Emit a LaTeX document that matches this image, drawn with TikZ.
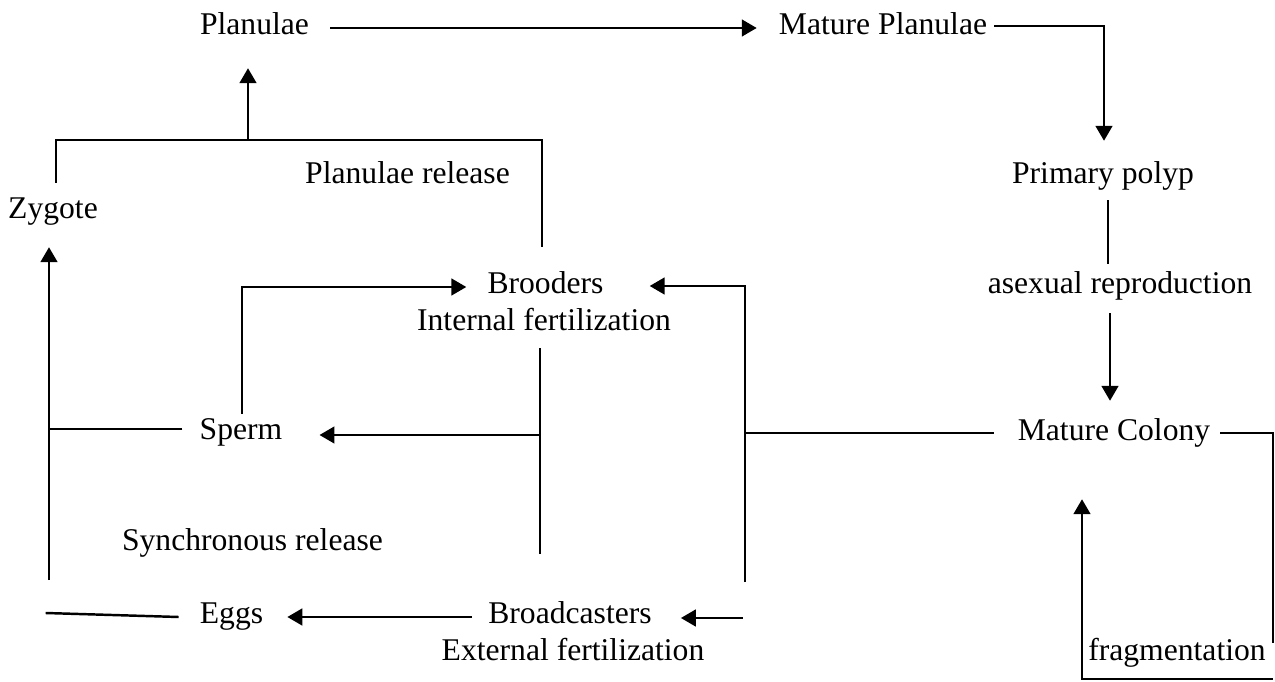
\documentclass[tikz,border=0pt]{standalone}
\usepackage{fontspec}
\setmainfont{Liberation Serif}
\usepackage{tikz}
\usetikzlibrary{arrows.meta, calc}

\begin{document}
\begin{tikzpicture}[x=0.02cm, y=-0.02cm,
    lbl/.style={inner sep=0pt, font=\fontsize{18}{21.6}\selectfont, text height=11.95pt, text depth=3.98pt},
    arr/.style={-{Triangle[length=8.5pt, width=9.5pt]}},
    line width=1.4pt]
    \useasboundingbox (0, 0) rectangle (1275, 682);

    % text
    \node[lbl] (planulae) at (254.5, 28) {Planulae};
    \node[lbl] (mplan) at (883, 28) {Mature Planulae};
    \node[lbl] (zygote) at (53, 211) {Zygote};
    \node[lbl] (prelease) at (407.5, 176) {Planulae release};
    \node[lbl] (polyp) at (1103, 176) {Primary polyp};
    \node[lbl] (brooders) at (545.5, 286) {Brooders};
    \node[lbl] (internal) at (544, 323) {Internal fertilization};
    \node[lbl] (asex) at (1120, 286) {asexual reproduction};
    \node[lbl] (sperm) at (241, 432) {Sperm};
    \node[lbl] (mcol) at (1114, 433) {Mature Colony};
    \node[lbl] (sync) at (252.5, 543) {Synchronous release};
    \node[lbl] (eggs) at (231.5, 616) {Eggs};
    \node[lbl] (broad) at (570, 616) {Broadcasters};
    \node[lbl] (external) at (573, 653) {External fertilization};
    \node[lbl] (frag) at (1177, 653) {fragmentation};

    \coordinate (merge) at (248, 141);
    \coordinate (splitup) at (745, 286);
    \coordinate (splitlow) at (745, 582);
    \coordinate (zleft) at (49, 580);
    \coordinate (fragr) at (1273, 643);
    \coordinate (fragb) at (1273, 679);

    % top row
    \draw[arr] ($(planulae.east)+(20,0)$) -- ($(mplan.west)+(-21,0)$);
    \draw[arr] ($(mplan.east)+(6,-2)$) -| ($(polyp.north)+(1,-20)$);
    \draw ($(zygote.north)+(3,-13)$) |- ($(brooders.north)+(-3.5,-131)$) -- ($(brooders.north)+(-3.5,-24)$);
    \draw[arr] (merge) -- ($(planulae.south)+(-6.5,25)$);

    % right column
    \draw ($(polyp.south)+(5,9)$) -- ($(asex.north -| polyp.south)+(5,-7)$);
    \draw[arr] ($(asex.south -| polyp.south)+(7,12)$) -- ($(mcol.north)+(-4,-17)$);
    \draw ($(mcol.east)+(9,0)$) -| (fragr);
    \draw[arr] (fragb) -| ($(mcol.south)+(-32,51)$);

    % colony to brooders and broadcasters
    \draw ($(mcol.west)+(-23,0)$) -- (splitup |- mcol.west);
    \draw[arr] (splitlow) -- (splitup) -- ($(brooders.east)+(45,0)$);
    \draw[arr] ($(broad.east)+(90,2)$) -- ($(broad.east)+(28,2)$);

    % gametes
    \draw ($(internal.south)+(-4,10)$) -- ($(broad.north)+(-30,-47)$);
    \draw[arr] ($(sperm.east)+(257,3)$) -- ($(sperm.east)+(36,3)$);
    \draw[arr] ($(broad.west)+(-15,1)$) -- ($(eggs.east)+(23,1)$);
    \draw[arr] ($(sperm.north)+(1,-3)$) |- ($(brooders.west)+(-20,1)$);

    % to zygote
    \draw ($(sperm.west)+(-16,-3)$) -- ($(sperm.west -| zleft)+(0,-3)$);
    \draw ($(eggs.west)+(-20,1)$) -- ++(-133,-4);
    \draw[arr] (zleft) -- ($(zygote.south)+(-4,21)$);
\end{tikzpicture}
\end{document}
